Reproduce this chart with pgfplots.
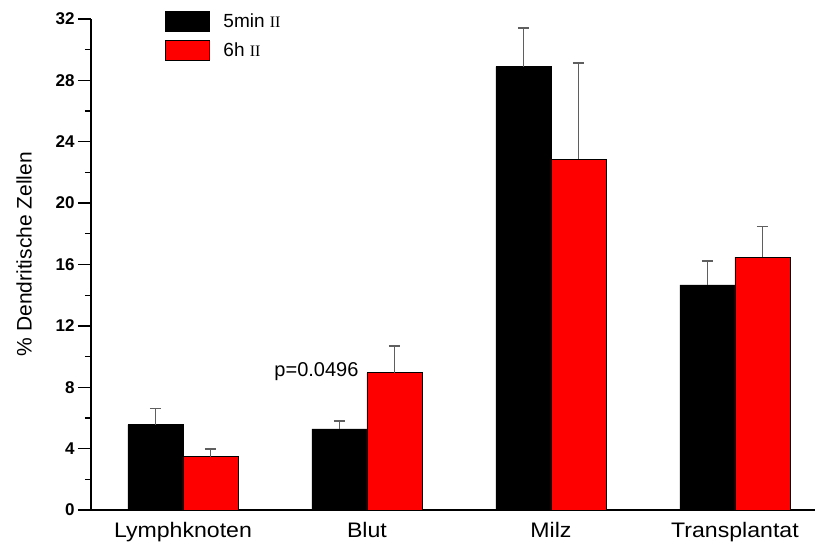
\documentclass[border=0pt]{standalone}
\usepackage{fontspec}
\setmainfont{Liberation Sans}
\newfontfamily\romanfont{Liberation Serif}
\usepackage{graphicx}
\usepackage{pgfplots}
\pgfplotsset{compat=1.18}
\definecolor{errgray}{RGB}{95,95,95}
\newcommand{\wx}[1]{\scalebox{1.1}[1]{#1}}
\begin{document}
\begin{tikzpicture}
\begin{axis}[name=ax, scale only axis, width=724pt, height=491pt,
  ybar=0pt, bar width=55pt,
  xmin=-0.5, xmax=3.435, ymin=0, ymax=32,
  axis lines=left, axis line style={-, line width=1.3pt},
  xtick={0,1,2,3}, xticklabels={\wx{Lymphknoten},\wx{Blut},\wx{Milz},\wx{Transplantat}},
  x tick style={draw=none},
  ytick={0,4,...,32}, minor y tick num=1,
  y tick style={line width=1.3pt, black},
  tick align=outside, major tick length=13pt, minor tick length=6pt,
  /pgf/number format/assume math mode=true,
  yticklabel style={font=\bfseries\fontsize{17}{20}\selectfont},
  xticklabel style={font=\fontsize{21}{25}\selectfont, yshift=4pt},
  ylabel={\% Dendritische Zellen},
  ylabel style={font=\fontsize{21}{25}\selectfont, at={(rel axis cs:-0.0925,0.521)}, anchor=center},
  legend style={draw=none, fill=none, at={(rel axis cs:0.102,1.016)}, anchor=north west,
    inner sep=0pt, outer sep=0pt, row sep=8pt, font=\fontsize{19}{21}\selectfont,
    nodes={inner sep=0pt}, /tikz/every odd column/.append style={column sep=14pt}},
  legend cell align=left,
  clip=false,
]
\addplot[fill=black, draw=black, line width=0.8pt,
  legend image code/.code={\draw[fill=black, draw=black, line width=0.6pt] (0pt,-10pt) rectangle (44pt,10pt);},
  error bars/.cd, y dir=plus, y explicit,
  error bar style={line width=1.2pt, color=errgray},
  error mark options={rotate=90, line width=1.2pt, color=errgray, mark size=5.5pt}]
  table[x=x, y=y, y error=e] {
x y e
0 5.56 1.08
1 5.28 0.52
2 28.90 2.52
3 14.67 1.56
};
\addplot[fill=red, draw=black, line width=0.8pt,
  legend image code/.code={\draw[fill=red, draw=black, line width=0.6pt] (0pt,-10pt) rectangle (44pt,10pt);},
  error bars/.cd, y dir=plus, y explicit,
  error bar style={line width=1.2pt, color=errgray},
  error mark options={rotate=90, line width=1.2pt, color=errgray, mark size=5.5pt}]
  table[x=x, y=y, y error=e] {
x y e
0 3.47 0.51
1 8.94 1.75
2 22.87 6.26
3 16.48 1.99
};
\legend{5min {\romanfont\fontsize{16}{16}\selectfont II}, 6h {\romanfont\fontsize{16}{16}\selectfont II}}
\node[anchor=base, inner sep=0pt, font=\fontsize{20}{24}\selectfont] at (axis cs:0.7255,8.67) {p=0.0496};
\end{axis}
\pgfresetboundingbox
\path (ax.south west) ++(-91pt,-32pt) rectangle ++(815pt,542pt);
\end{tikzpicture}
\end{document}
